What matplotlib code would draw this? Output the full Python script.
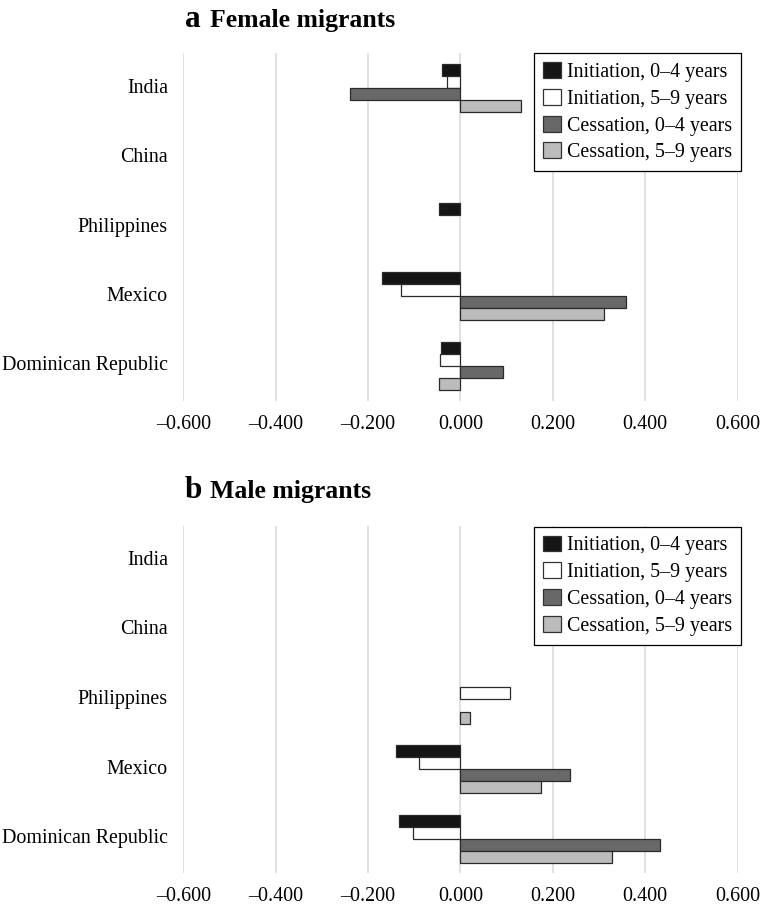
import numpy as np
import matplotlib
matplotlib.use("Agg")
import matplotlib.pyplot as plt
from matplotlib.patches import Patch

plt.rcParams['font.family'] = ['Liberation Serif', 'DejaVu Serif']

countries = ["India", "China", "Philippines", "Mexico", "Dominican Republic"]
series_names = ["Initiation, 0\u20134 years", "Initiation, 5\u20139 years",
                "Cessation, 0\u20134 years", "Cessation, 5\u20139 years"]
nan = np.nan

female_init_0_4 = [-0.039, nan, -0.047, -0.170, -0.043]
female_init_5_9 = [-0.030, nan, nan, -0.129, -0.044]
female_cess_0_4 = [-0.240, nan, nan, 0.359, 0.092]
female_cess_5_9 = [0.131, nan, nan, 0.311, -0.047]

male_init_0_4 = [nan, nan, nan, -0.139, -0.134]
male_init_5_9 = [nan, nan, 0.108, -0.090, -0.102]
male_cess_0_4 = [nan, nan, nan, 0.238, 0.432]
male_cess_5_9 = [nan, nan, 0.021, 0.174, 0.328]

xticks = [-0.6, -0.4, -0.2, 0.0, 0.2, 0.4, 0.6]

colors = ["#151515", "#ffffff", "#686868", "#bcbcbc"]
edge = "#2a2a2a"
FS = 14.4

W, H = 762, 906
fig = plt.figure(figsize=(W / 100, H / 100), dpi=100)


def fmt(v):
    s = f"{v:.3f}"
    if s == "-0.000":
        s = "0.000"
    return s.replace("-", "\u2013")


def panel(ax, data, letter, title, title_base_y, leg_top):
    h = 0.1727
    y = np.arange(len(countries))
    offs = [-1.5 * h, -0.5 * h, 0.5 * h, 1.5 * h]
    for vals, off, col in zip(data, offs, colors):
        v = np.array(vals, dtype=float)
        m = ~np.isnan(v)
        ax.barh(y[m] + off, v[m], height=h, color=col, edgecolor=edge,
                linewidth=0.9, zorder=3)
    ax.set_xlim(-0.6, 0.6)
    ax.set_ylim(4.5, -0.5)
    ax.set_xticks(xticks)
    ax.set_xticklabels([fmt(v) for v in xticks], fontsize=FS)
    ax.set_yticks(y)
    ax.set_yticklabels(countries, fontsize=FS, va='center')
    ax.tick_params(axis='both', length=0)
    ax.tick_params(axis='x', pad=10.2)
    ax.tick_params(axis='y', pad=11)
    for s in ax.spines.values():
        s.set_visible(False)
    ax.grid(axis='x', color="#dcdcdc", linewidth=1.2, zorder=0)
    ax.grid(axis='y', visible=False)
    ax.set_axisbelow(True)
    handles = [Patch(facecolor=c, edgecolor="#333333", linewidth=0.9) for c in colors]
    leg = ax.legend(handles, series_names, loc='upper right',
                    bbox_to_anchor=(741 / W, 1 - leg_top / H),
                    bbox_transform=fig.transFigure, borderaxespad=0,
                    fontsize=FS, frameon=True, fancybox=False, framealpha=1,
                    edgecolor="black", handlelength=0.9, handleheight=0.85,
                    handletextpad=0.3, labelspacing=0.34, borderpad=0.45)
    leg.get_frame().set_linewidth(0.9)
    fig.text(185 / W, 1 - title_base_y / H, letter, fontsize=22.5,
             fontweight='bold', va='baseline', ha='left')
    fig.text(210 / W, 1 - title_base_y / H, title, fontsize=18.5,
             fontweight='bold', va='baseline', ha='left')


left = 183.3 / W
width = (737.6 - 183.3) / W
ax1 = fig.add_axes([left, (H - 400.7) / H, width, 347.4 / H])
ax2 = fig.add_axes([left, (H - 873.3) / H, width, 347.6 / H])

panel(ax1, [female_init_0_4, female_init_5_9, female_cess_0_4, female_cess_5_9],
      "a", "Female migrants", 26.7, 53.3)
panel(ax2, [male_init_0_4, male_init_5_9, male_cess_0_4, male_cess_5_9],
      "b", "Male migrants", 498.3, 526.5)

fig.savefig("out.png", dpi=100)
